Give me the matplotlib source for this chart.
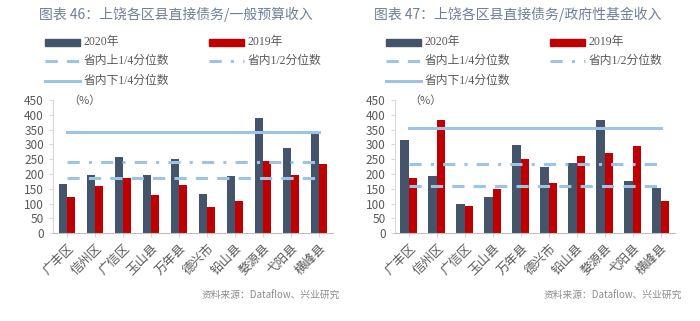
import numpy as np
import matplotlib
matplotlib.use("Agg")
import matplotlib.pyplot as plt
from matplotlib.lines import Line2D

plt.rcParams['font.family'] = ['Noto Sans CJK SC', 'DejaVu Sans']

# data
districts = ["广丰区", "信州区", "广信区", "玉山县", "万年县", "德兴市", "铅山县", "婺源县", "弋阳县", "横峰县"]

budget_2020 = [167, 195, 256, 197, 251, 133, 193, 388, 288, 340]
budget_2019 = [122, 160, 188, 130, 163, 87, 110, 243, 198, 235]
budget_lines = [185, 242, 343]  # dashed, dash-dot, solid

fund_2020 = [314, 192, 100, 121, 297, 223, 238, 382, 177, 154]
fund_2019 = [185, 383, 93, 150, 252, 168, 260, 271, 296, 110]
fund_lines = [158, 233, 356]

titles = ["图表 46：上饶各区县直接债务/一般预算收入",
          "图表 47：上饶各区县直接债务/政府性基金收入"]
source = "资料来源：Dataflow、兴业研究"
labels = ["2020年", "2019年", "省内上1/4分位数", "省内1/2分位数", "省内下1/4分位数"]

NAVY = "#44546a"
RED = "#c00000"
BLUE = "#9dc3e6"
GRAY = "#595959"
DASH = (0, (4, 3))
DASHDOT = (0, (4, 3, 1, 3))

fig = plt.figure(figsize=(7, 3.21), dpi=100)


def draw(left, data20, data19, lines, title, leg_x):
    ax = fig.add_axes([left, 0.274, 0.4, 0.414])
    x = np.arange(len(districts))
    w = 0.3
    ax.bar(x - w / 2, data20, w, color=NAVY, zorder=2)
    ax.bar(x + w / 2, data19, w, color=RED, zorder=2)
    lw = 2.2
    ax.plot([x[0], x[-1]], [lines[0]] * 2, color=BLUE, lw=lw, ls=DASH, zorder=3)
    ax.plot([x[0], x[-1]], [lines[1]] * 2, color=BLUE, lw=lw, ls=DASHDOT, zorder=3)
    ax.plot([x[0], x[-1]], [lines[2]] * 2, color=BLUE, lw=lw, ls='-', zorder=3)

    ax.set_xlim(-0.5, len(districts) - 0.5)
    ax.set_ylim(0, 450)
    ax.set_yticks(range(0, 451, 50))
    ax.set_xticks(x)
    ax.set_xticklabels(districts, rotation=45, ha='right', rotation_mode='anchor',
                       fontsize=9, color=GRAY)
    ax.tick_params(axis='y', labelsize=8.5, labelcolor=GRAY, color="#d9d9d9", length=3)
    ax.tick_params(axis='x', color="#d9d9d9", length=3)
    for s in ['top', 'right']:
        ax.spines[s].set_visible(False)
    ax.spines['left'].set_color("#d9d9d9")
    ax.spines['bottom'].set_color("#bfbfbf")
    ax.text(0.03, 450, "（%）", fontsize=8, color=GRAY, va='center', ha='left')

    fig.text(left + 0.2 - 0.024, 0.955, title, fontsize=10, color="#6f7f95",
             ha='center', va='center')
    fig.text(left + 0.4 + 0.01, 0.08, source, fontsize=7, color="#8c8c8c",
             ha='right', va='center')

    # legend laid out by hand as two columns
    kinds = ['bar', 'bar', DASH, DASHDOT, '-']
    colors = [NAVY, RED, BLUE, BLUE, BLUE]
    rows = [0.868, 0.81, 0.748]
    pos = [(0, 0), (1, 0), (0, 1), (1, 1), (0, 2)]
    for kind, col, lab, (c, r) in zip(kinds, colors, labels, pos):
        hx = leg_x + c * 0.235
        y = rows[r]
        if kind == 'bar':
            fig.patches.append(plt.Rectangle((hx, y - 0.012), 0.05, 0.024,
                                             transform=fig.transFigure, color=col))
        else:
            fig.lines.append(Line2D([hx, hx + 0.05], [y, y], transform=fig.transFigure,
                                    color=col, lw=lw, ls=kind))
        fig.text(hx + 0.055, y, lab, fontsize=8.5, color=GRAY, va='center', ha='left',
                 family=['Liberation Serif', 'Noto Sans CJK SC'])
    return ax


draw(0.0757, budget_2020, budget_2019, budget_lines, titles[0], 0.064)
draw(0.564, fund_2020, fund_2019, fund_lines, titles[1], 0.551)

fig.savefig("out.png", dpi=100)
